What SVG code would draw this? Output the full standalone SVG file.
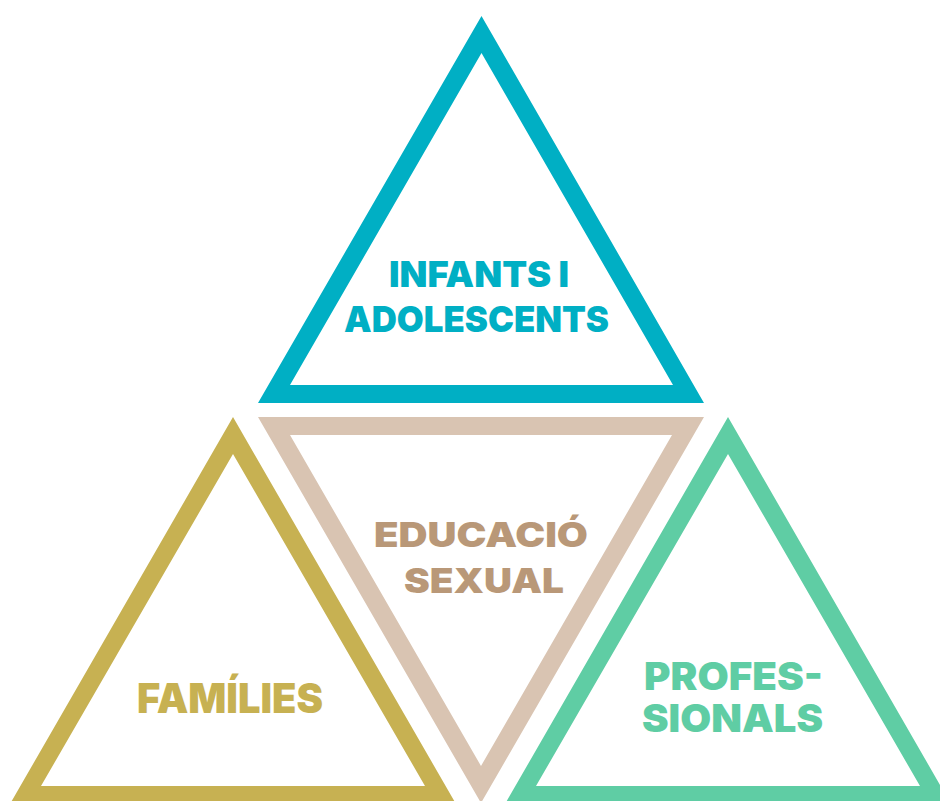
<svg xmlns="http://www.w3.org/2000/svg" width="940" height="801" viewBox="0 0 940 801">
<style>
.tri{fill-rule:evenodd;stroke:none}
.lbl{font-family:Inter,"Liberation Sans",sans-serif;font-weight:900}
</style>
<rect width="940" height="801" fill="#ffffff"/>
<g id="node-infants">
<path class="tri" fill="#00AFC4" d="M481.5,16 L704,403 L258,403 Z M481.5,53 L290,385 L673,385 Z"/>
<text class="lbl" fill="#00AFC4" font-size="36" x="389" y="287" textLength="180" lengthAdjust="spacingAndGlyphs">INFANTS I</text>
<text class="lbl" fill="#00AFC4" font-size="36" x="344" y="332" textLength="265" lengthAdjust="spacingAndGlyphs">ADOLESCENTS</text>
</g>
<g id="node-educacio">
<path class="tri" fill="#D9C4B2" d="M258,417 L704,417 L481,803 Z M290,435 L481,766 L672,435 Z"/>
<text class="lbl" fill="#B99878" font-size="34" x="374" y="547" textLength="214" lengthAdjust="spacingAndGlyphs">EDUCACIÓ</text>
<text class="lbl" fill="#B99878" font-size="34" x="404" y="593" textLength="160" lengthAdjust="spacingAndGlyphs">SEXUAL</text>
</g>
<g id="node-families">
<path class="tri" fill="#C7B152" d="M233,417 L456,804 L10,804 Z M233,454 L41,786 L425,786 Z"/>
<text class="lbl" fill="#C7B152" font-size="41" x="137" y="713" textLength="186" lengthAdjust="spacingAndGlyphs">FAMÍLIES</text>
</g>
<g id="node-professionals">
<path class="tri" fill="#5FCDA4" d="M728,417 L951,804 L505,804 Z M728,454 L536,786 L920,786 Z"/>
<text class="lbl" fill="#5FCDA4" font-size="38.5" x="644" y="690" textLength="179" lengthAdjust="spacingAndGlyphs">PROFES-</text>
<text class="lbl" fill="#5FCDA4" font-size="38.5" x="642" y="732" textLength="181" lengthAdjust="spacingAndGlyphs">SIONALS</text>
</g>
<g id="connectors"></g>
</svg>
